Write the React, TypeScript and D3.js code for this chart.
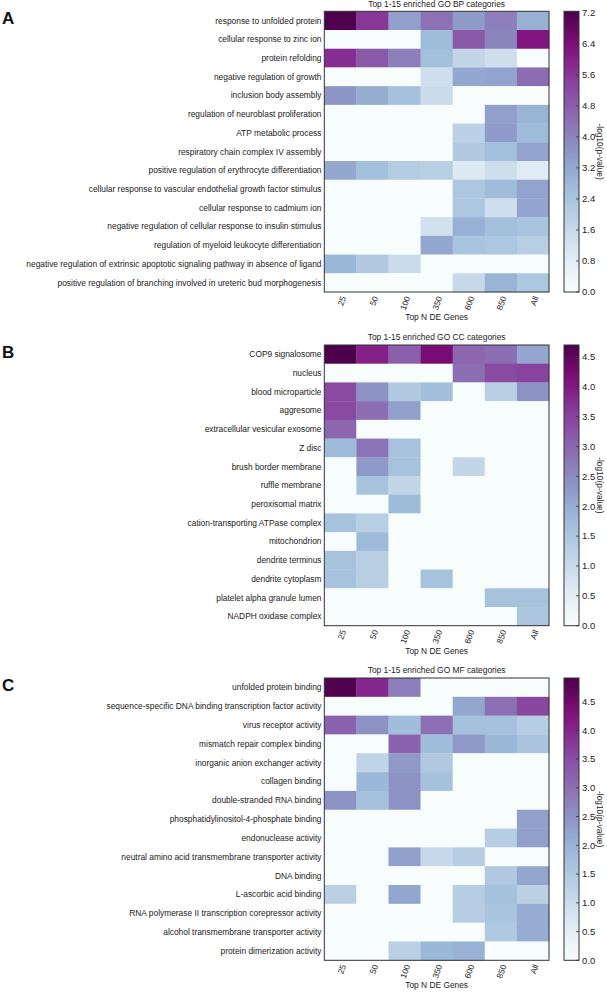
import React from "react";
import * as d3 from "d3";

const columns = ["25", "50", "100", "350", "600", "850", "All"];

const bpTerms = [
  "response to unfolded protein",
  "cellular response to zinc ion",
  "protein refolding",
  "negative regulation of growth",
  "inclusion body assembly",
  "regulation of neuroblast proliferation",
  "ATP metabolic process",
  "respiratory chain complex IV assembly",
  "positive regulation of erythrocyte differentiation",
  "cellular response to vascular endothelial growth factor stimulus",
  "cellular response to cadmium ion",
  "negative regulation of cellular response to insulin stimulus",
  "regulation of myeloid leukocyte differentiation",
  "negative regulation of extrinsic apoptotic signaling pathway in absence of ligand",
  "positive regulation of branching involved in ureteric bud morphogenesis",
];
const bpValues = [
  [7.2, 5.6, 3.4, 4.4, 3.5, 4.1, 3.0],
  [0, 0, 0, 2.7, 4.9, 4.0, 6.2],
  [5.8, 4.9, 4.1, 2.6, 1.7, 1.4, 0],
  [0, 0, 0, 1.4, 3.2, 3.3, 4.5],
  [3.6, 3.1, 2.5, 1.5, 0, 0, 0],
  [0, 0, 0, 0, 0, 3.4, 2.9],
  [0, 0, 0, 0, 1.9, 3.5, 2.7],
  [0, 0, 0, 0, 2.2, 2.6, 3.3],
  [3.2, 2.6, 2.1, 2.0, 1.0, 1.4, 0.9],
  [0, 0, 0, 0, 2.3, 2.7, 3.3],
  [0, 0, 0, 0, 2.3, 1.4, 3.3],
  [0, 0, 0, 1.3, 3.0, 2.6, 2.4],
  [0, 0, 0, 3.2, 2.4, 2.3, 2.0],
  [2.8, 2.2, 1.5, 0, 0, 0, 0],
  [0, 0, 0, 0, 1.6, 2.9, 2.3],
];
const bpTicks = [0.0, 0.8, 1.6, 2.4, 3.2, 4.0, 4.8, 5.6, 6.4, 7.2];

const ccTerms = [
  "COP9 signalosome",
  "nucleus",
  "blood microparticle",
  "aggresome",
  "extracellular vesicular exosome",
  "Z disc",
  "brush border membrane",
  "ruffle membrane",
  "peroxisomal matrix",
  "cation-transporting ATPase complex",
  "mitochondrion",
  "dendrite terminus",
  "dendrite cytoplasm",
  "platelet alpha granule lumen",
  "NADPH oxidase complex",
];
const ccValues = [
  [4.7, 3.9, 3.1, 4.2, 3.0, 2.9, 2.1],
  [0, 0, 0, 0, 2.9, 3.4, 3.5],
  [3.4, 2.4, 1.4, 1.7, 0, 1.3, 2.4],
  [3.4, 2.9, 2.2, 0, 0, 0, 0],
  [3.0, 0, 0, 0, 0, 0, 0],
  [1.8, 2.8, 1.6, 0, 0, 0, 0],
  [0, 2.3, 1.6, 0, 1.1, 0, 0],
  [0, 1.6, 1.1, 0, 0, 0, 0],
  [0, 0, 1.8, 0, 0, 0, 0],
  [1.6, 1.3, 0, 0, 0, 0, 0],
  [0, 1.8, 0, 0, 0, 0, 0],
  [1.6, 1.3, 0, 0, 0, 0, 0],
  [1.6, 1.3, 0, 1.6, 0, 0, 0],
  [0, 0, 0, 0, 0, 1.6, 1.6],
  [0, 0, 0, 0, 0, 0, 1.5],
];
const ccTicks = [0.0, 0.5, 1.0, 1.5, 2.0, 2.5, 3.0, 3.5, 4.0, 4.5];

const mfTerms = [
  "unfolded protein binding",
  "sequence-specific DNA binding transcription factor activity",
  "virus receptor activity",
  "mismatch repair complex binding",
  "inorganic anion exchanger activity",
  "collagen binding",
  "double-stranded RNA binding",
  "phosphatidylinositol-4-phosphate binding",
  "endonuclease activity",
  "neutral amino acid transmembrane transporter activity",
  "DNA binding",
  "L-ascorbic acid binding",
  "RNA polymerase II transcription corepressor activity",
  "alcohol transmembrane transporter activity",
  "protein dimerization activity",
];
const mfValues = [
  [4.85, 4.0, 2.8, 0, 0, 0, 0],
  [0, 0, 0, 0, 2.2, 3.0, 3.6],
  [3.2, 2.5, 1.8, 3.0, 1.7, 1.7, 1.4],
  [0, 0, 3.2, 1.8, 2.4, 1.9, 1.6],
  [0, 1.2, 2.4, 1.5, 0, 0, 0],
  [0, 1.9, 2.5, 1.7, 0, 0, 0],
  [2.5, 1.7, 2.5, 0, 0, 0, 0],
  [0, 0, 0, 0, 0, 0, 2.3],
  [0, 0, 0, 0, 0, 1.4, 2.3],
  [0, 0, 2.3, 1.1, 1.4, 0, 0],
  [0, 0, 0, 0, 0, 1.5, 2.2],
  [1.3, 0, 2.2, 0, 1.4, 1.7, 1.3],
  [0, 0, 0, 0, 1.4, 1.6, 2.1],
  [0, 0, 0, 0, 0, 1.5, 2.1],
  [0, 0, 1.3, 1.9, 2.0, 0, 0],
];
const mfTicks = [0.0, 0.5, 1.0, 1.5, 2.0, 2.5, 3.0, 3.5, 4.0, 4.5];

const buPu = ["#f7fcfd", "#e0ecf4", "#bfd3e6", "#9ebcda", "#8c96c6", "#8c6bb1", "#88419d", "#810f7c", "#4d004b"];

const FONT = "'Liberation Sans', Arial, Helvetica, sans-serif";
const X0 = 324.3;
const X1 = 549;
const CB0 = 564;
const CBW = 15;

type PanelProps = {
  letter: string;
  title: string;
  terms: string[];
  values: number[][];
  ticks: number[];
  vmax: number;
  top: number;
  bottom: number;
  fmt: (v: number) => string;
  id: string;
};

function Panel({ letter, title, terms, values, ticks, vmax, top, bottom, fmt, id }: PanelProps) {
  const x = d3.scaleBand<string>().domain(columns).range([X0, X1]);
  const y = d3.scaleBand<string>().domain(terms).range([top, bottom]);
  const color = d3
    .scaleLinear<string>()
    .domain(buPu.map((_, i) => (i / (buPu.length - 1)) * vmax))
    .range(buPu)
    .interpolate(d3.interpolateRgb)
    .clamp(true);
  const cb = d3.scaleLinear().domain([0, vmax]).range([bottom, top]);
  const gradStops = d3.range(0, 1.0001, 0.05);
  const mid = (top + bottom) / 2;
  const cx = (X0 + X1) / 2;
  return (
    <g>
      <defs>
        <linearGradient id={id} x1="0" y1="1" x2="0" y2="0">
          {gradStops.map((t) => (
            <stop key={t} offset={t} stopColor={color(t * vmax)} />
          ))}
        </linearGradient>
      </defs>
      <text x={2} y={top + 12.7} fontSize={17} fontWeight="bold" fontFamily={FONT} fill="#111">
        {letter}
      </text>
      <text x={cx} y={top - 4.8} fontSize={8.4} textAnchor="middle" fontFamily={FONT} fill="#222">
        {title}
      </text>
      {values.map((row, ri) =>
        row.map((v, ci) => (
          <rect
            key={`${ri}-${ci}`}
            x={x(columns[ci])}
            y={y(terms[ri])}
            width={x.bandwidth() + 0.3}
            height={y.bandwidth() + 0.3}
            fill={color(v)}
          />
        ))
      )}
      <rect x={X0} y={top} width={X1 - X0} height={bottom - top} fill="none" stroke="#333" strokeWidth={1} />
      {terms.map((t) => (
        <text
          key={t}
          x={X0 - 2.8}
          y={(y(t) as number) + y.bandwidth() / 2}
          dy="0.35em"
          fontSize={8.4}
          textAnchor="end"
          fontFamily={FONT}
          fill="#222"
        >
          {t}
        </text>
      ))}
      {columns.map((c) => {
        const px = (x(c) as number) + x.bandwidth() / 2 + 3;
        const py = bottom + 4.5;
        return (
          <text
            key={c}
            transform={`translate(${px},${py}) rotate(-70)`}
            dy="0.35em"
            fontSize={8.4}
            textAnchor="end"
            fontFamily={FONT}
            fill="#222"
          >
            {c}
          </text>
        );
      })}
      <text x={cx} y={bottom + 28} fontSize={8.4} textAnchor="middle" fontFamily={FONT} fill="#222">
        Top N DE Genes
      </text>
      <rect x={CB0} y={top} width={CBW} height={bottom - top} fill={`url(#${id})`} stroke="#333" strokeWidth={1} />
      {ticks.map((t) => (
        <g key={t}>
          <line x1={CB0 + CBW - 3} x2={CB0 + CBW} y1={cb(t)} y2={cb(t)} stroke="#333" strokeWidth={0.8} />
          <text x={CB0 + CBW + 3} y={cb(t)} dy="0.35em" fontSize={9.5} fontFamily={FONT} fill="#222">
            {fmt(t)}
          </text>
        </g>
      ))}
      <text
        transform={`translate(${600},${mid}) rotate(90)`}
        textAnchor="middle"
        dy="0.35em"
        fontSize={8.4}
        fontFamily={FONT}
        fill="#222"
      >
        -log10(p-value)
      </text>
    </g>
  );
}

export default function App() {
  const f1 = d3.format(".1f");
  return (
    <svg
      width={607}
      height={992}
      style={{ position: "absolute", left: 0, top: 0, background: "#fff" }}
    >
      <rect width={607} height={992} fill="#fff" />
      <Panel letter="A" title="Top 1-15 enriched GO BP categories" terms={bpTerms} values={bpValues} ticks={bpTicks} vmax={7.24} top={11.3} bottom={292} fmt={f1} id="gA" />
      <Panel letter="B" title="Top 1-15 enriched GO CC categories" terms={ccTerms} values={ccValues} ticks={ccTicks} vmax={4.7} top={345} bottom={625.7} fmt={f1} id="gB" />
      <Panel letter="C" title="Top 1-15 enriched GO MF categories" terms={mfTerms} values={mfValues} ticks={mfTicks} vmax={4.91} top={678} bottom={960.3} fmt={f1} id="gC" />
    </svg>
  );
}
